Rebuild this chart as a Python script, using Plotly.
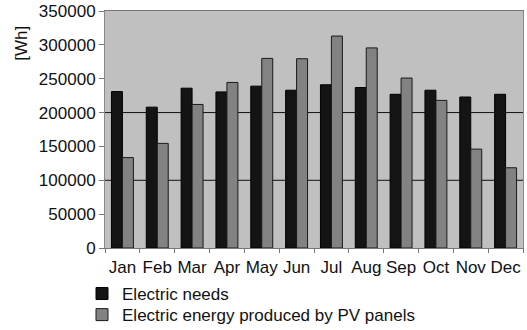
import plotly.graph_objects as go

months = ["Jan", "Feb", "Mar", "Apr", "May", "Jun", "Jul", "Aug", "Sep", "Oct", "Nov", "Dec"]
electric_needs = [231000, 208000, 236000, 230500, 239000, 233000, 241000, 237000, 227000, 233000, 223000, 227000]
pv_energy = [133500, 154500, 212000, 244500, 280000, 279500, 313000, 295500, 251000, 218000, 146000, 118500]
y_ticks = [0, 50000, 100000, 150000, 200000, 250000, 300000, 350000]
grid_values = [100000, 200000]

FONT = "Liberation Sans, Arial, sans-serif"

fig = go.Figure()
fig.add_trace(go.Bar(
    x=months, y=electric_needs, name="Electric needs",
    marker=dict(color="#141414", line=dict(color="#000000", width=1)),
    legend="legend",
))
fig.add_trace(go.Bar(
    x=months, y=pv_energy, name="Electric energy produced by PV panels",
    marker=dict(color="#828282", line=dict(color="#1a1a1a", width=1)),
    legend="legend2",
))

for g in grid_values:
    fig.add_shape(type="line", xref="x domain", x0=0, x1=1, yref="y", y0=g, y1=g,
                  line=dict(color="#111111", width=1), layer="below")

fig.update_layout(
    width=527, height=330,
    margin=dict(l=105, r=4, t=11, b=82, autoexpand=False),
    paper_bgcolor="white", plot_bgcolor="#c0c0c0",
    barmode="group", bargap=0.37, bargroupgap=0,
    font=dict(family=FONT, size=17, color="#111111"),
    showlegend=True,
    legend=dict(x=-0.055, y=-0.194, xanchor="left", yanchor="middle",
                font=dict(family=FONT, size=17, color="#111111"),
                bgcolor="rgba(0,0,0,0)"),
    legend2=dict(x=-0.055, y=-0.283, xanchor="left", yanchor="middle",
                 font=dict(family=FONT, size=17, color="#111111"),
                 bgcolor="rgba(0,0,0,0)"),
    xaxis=dict(type="category", tickson="boundaries", ticks="outside", ticklen=4,
               tickangle=0, tickcolor="#777777", showline=True, linecolor="#777777",
               mirror=True, showgrid=False, ticklabelstandoff=4, automargin=False,
               tickfont=dict(family=FONT, size=17, color="#111111")),
    yaxis=dict(range=[0, 350000], tickvals=y_ticks, ticktext=[str(v) for v in y_ticks],
               ticks="outside", ticklen=5, tickcolor="#777777", showline=True,
               linecolor="#888888", mirror=True, showgrid=False, zeroline=False,
               automargin=False,
               tickfont=dict(family=FONT, size=17, color="#111111")),
    annotations=[dict(text="[Wh]", xref="paper", yref="paper", x=-0.199, y=0.865,
                      xanchor="center", yanchor="middle", textangle=-90, showarrow=False,
                      font=dict(family=FONT, size=17, color="#111111"))],
)

fig.write_html("out.html", config={"displayModeBar": False},
               post_script="document.body.style.margin='0';document.body.style.padding='0';")
